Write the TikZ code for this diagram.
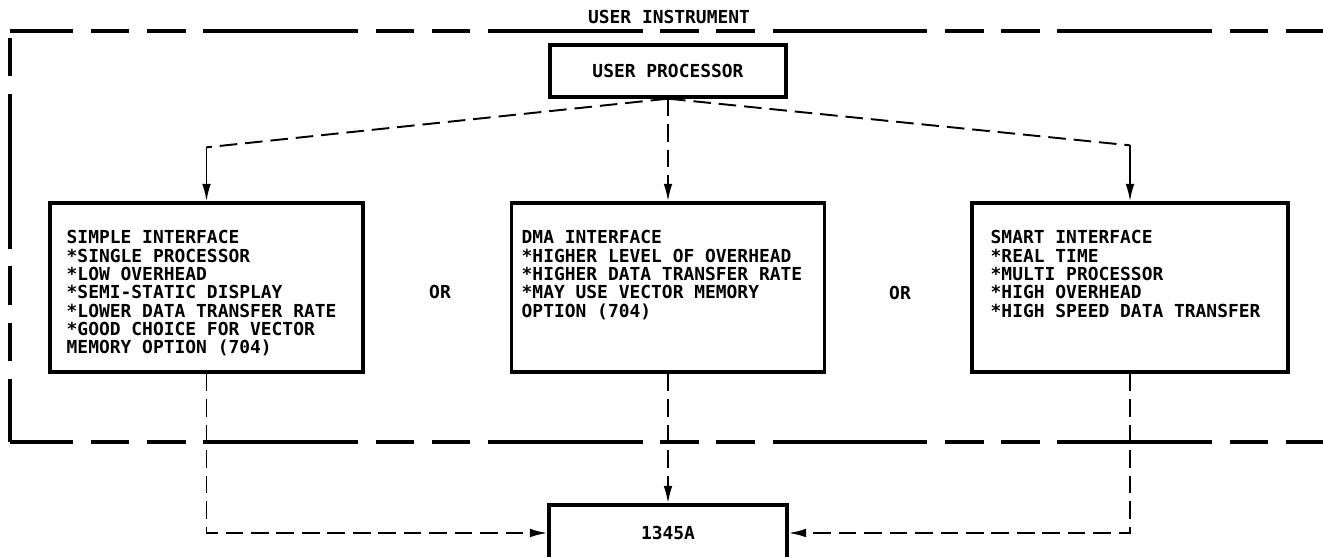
\documentclass[tikz,border=0pt]{standalone}
\usepackage{fontspec}
\setmonofont{DejaVu Sans Mono}
\usepackage{tikz}
\usetikzlibrary{arrows.meta,positioning}

\begin{document}
\begin{tikzpicture}[>={Latex[length=10pt,width=5pt]},
    lbl/.style={font=\ttfamily\bfseries\fontsize{10.2}{10.4}\selectfont, inner sep=0pt},
    blk/.style={draw, line width=1.9pt, inner sep=0pt},
    conn/.style={line width=1.1pt, dash pattern=on 10pt off 4.5pt},
    frame/.style={line width=2.1pt, dash pattern=on 88pt off 10pt on 22pt off 10pt on 22pt off 10pt, dash phase=52pt}]
    \useasboundingbox (0,0) rectangle (26.46,11.14);
    \clip (0,0) rectangle (26.46,11.14);
    % instrument boundary, open to the right
    \coordinate (tl) at (0.2,10.52);
    \coordinate (tr) at (26.46,10.52);
    \coordinate (bl) at (0.2,2.30);
    \coordinate (br) at (26.46,2.30);
    \draw[frame] (tl) -- (tr);
    \draw[frame] (bl) -- (tl);
    \draw[frame] (bl) -- (br);
    \node[lbl, anchor=base] (instr) at (13.38,10.66) {USER INSTRUMENT};

    \node[blk, lbl, minimum width=4.72cm, minimum height=1.04cm] (up) at (13.36,9.72) {USER PROCESSOR};

    \node[blk, minimum width=6.26cm, minimum height=3.38cm] (simple) at (4.13,5.39) {};
    \node[blk, minimum width=6.26cm, minimum height=3.38cm] (dma) at (13.36,5.39) {};
    \node[blk, minimum width=6.32cm, minimum height=3.38cm] (smart) at (22.60,5.39) {};
    \node[lbl, align=left, below right=0.58cm and 0.36cm of simple.north west] (simpletxt)
        {SIMPLE INTERFACE\\*SINGLE PROCESSOR\\*LOW OVERHEAD\\*SEMI-STATIC DISPLAY\\*LOWER DATA TRANSFER RATE\\*GOOD CHOICE FOR VECTOR\\MEMORY OPTION (704)};
    \node[lbl, align=left, below right=0.58cm and 0.23cm of dma.north west] (dmatxt)
        {DMA INTERFACE\\*HIGHER LEVEL OF OVERHEAD\\*HIGHER DATA TRANSFER RATE\\*MAY USE VECTOR MEMORY\\OPTION (704)};
    \node[lbl, align=left, below right=0.58cm and 0.40cm of smart.north west] (smarttxt)
        {SMART INTERFACE\\*REAL TIME\\*MULTI PROCESSOR\\*HIGH OVERHEAD\\*HIGH SPEED DATA TRANSFER};
    \node[lbl] (or1) at (8.80,5.30) {OR};
    \node[lbl] (or2) at (18.00,5.28) {OR};

    \node[blk, lbl, minimum width=4.76cm, minimum height=1.12cm] (dev) at (13.36,0.48) {1345A};

    % branches from the processor
    \coordinate[above=1.08cm of simple.north] (lb);
    \coordinate[above=1.12cm of smart.north] (rb);
    \draw[conn] (up.south) -- (lb);
    \draw[->, line width=1.1pt] (lb) -- (simple.north);
    \draw[conn, ->] (up.south) -- (dma.north);
    \draw[conn] (up.south) -- (rb);
    \draw[->, line width=1.1pt] (rb) -- (smart.north);

    % links to the 1345A
    \draw[conn, ->] (simple.south) |- (dev.west);
    \draw[conn, ->] (dma.south) -- (dev.north);
    \draw[conn, ->] (smart.south) |- (dev.east);
\end{tikzpicture}
\end{document}
